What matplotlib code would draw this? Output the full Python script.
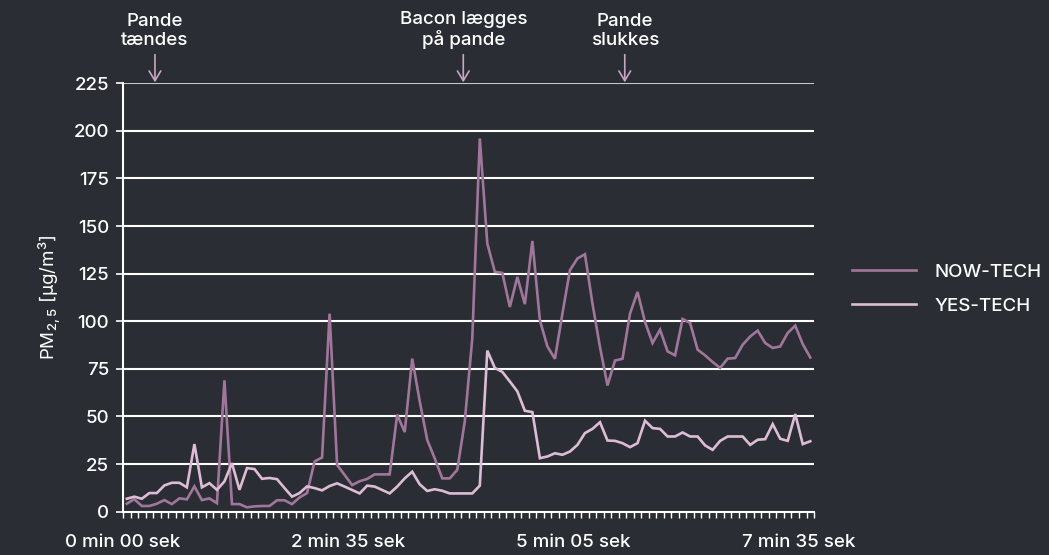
import matplotlib
matplotlib.use("Agg")
import matplotlib.pyplot as plt
import numpy as np

plt.rcParams['font.family'] = ['Inter', 'DejaVu Sans']
plt.rcParams['mathtext.fontset'] = 'custom'
plt.rcParams['mathtext.rm'] = 'Inter:medium'
plt.rcParams['mathtext.it'] = 'Inter:medium'
plt.rcParams['font.weight'] = 'medium'

now_tech = [4.2, 6.6, 3.0, 3.0, 4.2, 6.1, 4.0, 7.0, 6.5, 13.3,
            6.1, 7.0, 4.5, 69, 4.0, 4.0, 2.3, 2.8, 3.0, 3.0,
            6.0, 6.0, 4.0, 7.5, 9.8, 26.4, 28.5, 104, 24.6, 19.3,
            14.0, 16.0, 17.2, 19.6, 19.6, 19.6, 51, 41.8, 80.4, 58,
            37.7, 28, 17.5, 17.5, 22, 47.4, 91, 196, 140.8, 126,
            125.4, 107.5, 123.3, 109, 142.2, 100.5, 86.8, 80.3, 104, 126.8,
            133, 135.2, 109.3, 86.5, 66.3, 79.4, 80.3, 104, 115.4, 99.6,
            88.6, 95.6, 84.2, 82.1, 101.2, 99.1, 85.1, 82.1, 78.6, 75.5,
            80.4, 80.7, 87.7, 92, 95.1, 88.6, 86, 86.8, 93.9, 97.7,
            88, 81]
yes_tech = [6.8, 7.9, 6.8, 9.8, 9.8, 13.8, 15.2, 15.2, 12.8, 35.5,
            12.8, 15.0, 11.5, 15.9, 25.5, 11.5, 22.9, 22.4, 17.3, 17.7,
            17.1, 12.4, 7.9, 9.8, 13.3, 12.4, 11.2, 13.5, 14.9, 13.2,
            11.4, 9.6, 13.7, 13.2, 11.4, 9.6, 13.2, 17.5, 21, 14.4,
            10.9, 11.8, 11.0, 9.6, 9.6, 9.6, 9.6, 13.7, 84.6, 75.5,
            73.4, 68.4, 63.2, 53, 52.3, 28.1, 29, 30.7, 29.9, 31.6,
            35.1, 41.3, 43.5, 47, 37.4, 37.2, 36, 33.9, 36, 47.8,
            43.9, 43.5, 39.5, 39.5, 41.6, 39.5, 39.5, 34.8, 32.5, 37.2,
            39.5, 39.5, 39.5, 35.1, 37.8, 38.1, 46, 38.3, 37.2, 51.3,
            35.5, 37]
tick_positions = [0, 30, 60, 90]
tick_labels = ['0 min 00 sek', '2 min 35 sek', '5 min 05 sek', '7 min 35 sek']
y_ticks = [0, 25, 50, 75, 100, 125, 150, 175, 200, 225]
events = ['Pande\ntændes', 'Bacon lægges\npå pande', 'Pande\nslukkes']
event_pos = [4.25, 45.3, 66.8]

bg = '#2b2d34'
c_now = '#a0779b'
c_yes = '#dcbdd5'
c_arrow = '#c9a6c3'
fs = 13.5

fig = plt.figure(figsize=(10.49, 5.55), dpi=100, facecolor=bg)
ax = fig.add_axes([0.1173, 0.078, 0.776 - 0.1173, 0.85 - 0.078])
ax.set_facecolor(bg)

n = len(now_tech)
x = np.arange(n) + 0.5
ax.plot(x, now_tech, color=c_now, lw=1.9, label='NOW-TECH', solid_joinstyle='miter', zorder=3)
ax.plot(x, yes_tech, color=c_yes, lw=1.9, label='YES-TECH', solid_joinstyle='miter', zorder=3)

ax.set_xlim(0, 92)
ax.set_ylim(0, 225)
ax.set_yticks(y_ticks)
ax.set_yticklabels([str(v) for v in y_ticks])
for v in y_ticks[1:]:
    ax.axhline(v, color='#c8c8c8' if v == 225 else 'white', lw=1.5, zorder=1)

ax.set_xticks(tick_positions)
ax.set_xticklabels(tick_labels)
ax.set_xticks(np.arange(0, 93), minor=True)

for s in ['top', 'right']:
    ax.spines[s].set_visible(False)
ax.spines['left'].set_color('white')
ax.spines['bottom'].set_color('white')
ax.spines['left'].set_linewidth(1.5)
ax.spines['bottom'].set_linewidth(1.5)

ax.tick_params(axis='y', colors='white', labelsize=fs, length=5, width=1.2, pad=5)
ax.tick_params(axis='x', which='major', colors='white', labelsize=fs, length=4, width=1.0, pad=12)
ax.tick_params(axis='x', which='minor', colors='white', length=4, width=1.0)

ax.set_ylabel(r'PM$_{2,5}$ [µg/m$^3$]', color='white', fontsize=fs, labelpad=8)

for txt, pos in zip(events, event_pos):
    ax.annotate('', xy=(pos, 225.5), xytext=(pos, 240), xycoords='data', textcoords='data',
                arrowprops=dict(arrowstyle='->,head_length=0.5,head_width=0.3', color=c_arrow,
                                lw=1.2, mutation_scale=14, shrinkA=0, shrinkB=0),
                annotation_clip=False)
    ax.text(pos, 243, txt, ha='center', va='bottom', color='white', fontsize=fs,
            linespacing=1.15, clip_on=False)

leg = ax.legend(loc='center left', bbox_to_anchor=(1.042, 0.519), frameon=False,
                fontsize=fs, handlelength=3.4, handletextpad=1.0, labelspacing=0.9,
                borderpad=0.0)
for t in leg.get_texts():
    t.set_color('white')

fig.savefig('out.png', dpi=100, facecolor=bg)
